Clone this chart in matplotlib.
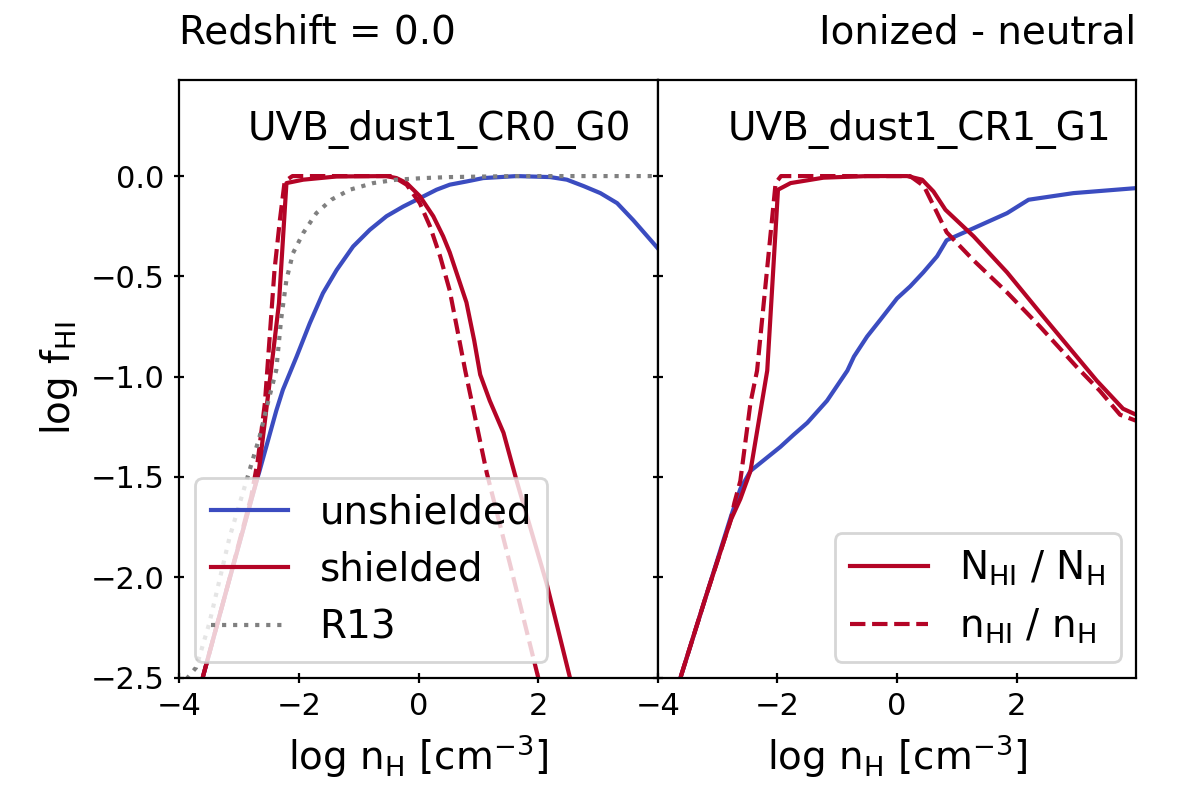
import matplotlib
matplotlib.use("Agg")
import matplotlib.pyplot as plt

blue = "#3b4cc0"
red = "#b40426"

# left panel: UVB_dust1_CR0_G0
l_unsh_x = [-3.7, -3.61, -3.2, -2.71, -2.66, -2.38, -2.27, -2.04, -1.82, -1.60, -1.37, -1.095, -0.816, -0.536, -0.258, 0.022, 0.30, 0.52, 0.80, 1.08, 1.64, 2.2, 2.48, 2.76, 3.04, 3.32, 3.59, 4.0]
l_unsh_y = [-2.6, -2.5, -2.05, -1.52, -1.47, -1.17, -1.066, -0.90, -0.734, -0.584, -0.468, -0.351, -0.268, -0.20, -0.152, -0.110, -0.068, -0.043, -0.027, -0.01, 0.0, -0.005, -0.018, -0.05, -0.085, -0.135, -0.22, -0.36]

l_sh_x = [-3.7, -3.61, -3.2, -2.71, -2.67, -2.50, -2.335, -2.21, -1.93, -1.37, -0.54, -0.37, -0.2, 0.02, 0.245, 0.41, 0.52, 0.80, 0.93, 1.03, 1.19, 1.42, 1.64, 2.14, 2.53, 2.6]
l_sh_y = [-2.6, -2.5, -2.05, -1.52, -1.466, -1.05, -0.634, -0.035, -0.018, -0.002, 0.0, -0.01, -0.035, -0.10, -0.20, -0.30, -0.38, -0.63, -0.82, -0.99, -1.12, -1.28, -1.52, -2.03, -2.50, -2.6]

l_shn_x = [-3.7, -3.61, -3.2, -2.8, -2.69, -2.57, -2.49, -2.41, -2.32, -2.24, -2.11, -0.44, -0.2, 0.02, 0.19, 0.36, 0.52, 0.78, 1.14, 1.55, 2.0, 2.05]
l_shn_y = [-2.6, -2.5, -2.05, -1.6, -1.42, -1.13, -0.80, -0.47, -0.22, -0.027, 0.0, 0.0, -0.043, -0.135, -0.25, -0.40, -0.57, -0.97, -1.48, -1.96, -2.5, -2.6]

r13_x = [-4.0, -3.72, -3.5, -3.16, -2.86, -2.66, -2.52, -2.38, -2.30, -2.21, -2.10, -1.93, -1.71, -1.46, -1.15, -0.76, -0.37, 0.08, 0.52, 1.6, 4.0]
r13_y = [-2.55, -2.45, -2.23, -1.80, -1.50, -1.30, -1.13, -0.967, -0.717, -0.517, -0.384, -0.284, -0.185, -0.118, -0.068, -0.035, -0.018, -0.01, -0.005, 0.0, 0.0]

# right panel: UVB_dust1_CR1_G1
r_unsh_x = [-3.7, -3.62, -3.2, -2.78, -2.62, -2.45, -2.2, -1.95, -1.73, -1.5, -1.17, -1.0, -0.83, -0.72, -0.5, -0.28, 0.0, 0.22, 0.44, 0.67, 0.83, 1.28, 1.84, 2.2, 2.95, 4.0]
r_unsh_y = [-2.6, -2.5, -2.1, -1.70, -1.56, -1.47, -1.41, -1.35, -1.29, -1.23, -1.12, -1.045, -0.97, -0.90, -0.80, -0.717, -0.61, -0.55, -0.48, -0.40, -0.32, -0.26, -0.185, -0.118, -0.085, -0.06]

r_sh_x = [-3.7, -3.62, -3.2, -2.78, -2.62, -2.45, -2.17, -1.99, -1.78, -1.23, -0.5, 0.17, 0.42, 0.61, 0.81, 1.28, 1.84, 2.39, 3.34, 3.78, 4.0]
r_sh_y = [-2.6, -2.5, -2.1, -1.715, -1.61, -1.47, -0.97, -0.068, -0.035, -0.008, 0.0, 0.0, -0.018, -0.077, -0.168, -0.30, -0.48, -0.68, -1.02, -1.16, -1.19]

r_shn_x = [-3.7, -3.62, -3.2, -2.78, -2.72, -2.62, -2.45, -2.34, -2.03, -1.94, 0.22, 0.45, 0.83, 1.28, 1.84, 2.39, 3.0, 3.39, 3.73, 4.0]
r_shn_y = [-2.6, -2.5, -2.1, -1.715, -1.63, -1.52, -1.13, -0.97, -0.035, 0.0, 0.0, -0.05, -0.28, -0.42, -0.58, -0.75, -0.95, -1.07, -1.19, -1.22]

plt.rcParams['font.family'] = ['DejaVu Sans']
plt.rcParams['xtick.direction'] = 'inout'
plt.rcParams['ytick.direction'] = 'inout'
plt.rcParams['xtick.labelsize'] = 11
plt.rcParams['ytick.labelsize'] = 11

fig, (ax1, ax2) = plt.subplots(1, 2, sharey=True, figsize=(5.98, 3.99), dpi=200)
fig.subplots_adjust(left=0.15, right=0.95, top=0.9, bottom=0.151, wspace=0)

ax1.plot(l_unsh_x, l_unsh_y, color=blue, lw=1.5, label='unshielded')
ax1.plot(l_sh_x, l_sh_y, color=red, lw=1.5, label='shielded')
ax1.plot(l_shn_x, l_shn_y, color=red, lw=1.5, ls='--')
ax1.plot(r13_x, r13_y, color='gray', lw=1.5, ls=':', label='R13')

ax2.plot(r_unsh_x, r_unsh_y, color=blue, lw=1.5)
ax2.plot(r_sh_x, r_sh_y, color=red, lw=1.5, label=r'$\mathrm{N_{HI}}$ / $\mathrm{N_H}$')
ax2.plot(r_shn_x, r_shn_y, color=red, lw=1.5, ls='--', label=r'$\mathrm{n_{HI}}$ / $\mathrm{n_H}$')

for ax in (ax1, ax2):
    ax.set_xlim(-4, 4)
    ax.set_xticks([-4, -2, 0, 2])
    ax.set_xlabel(r'log $\mathrm{n_H}$ [cm$^{-3}$]', fontsize=14)
ax1.set_ylim(-2.5, 0.48)
ax1.set_yticks([0.0, -0.5, -1.0, -1.5, -2.0, -2.5])
ax1.set_ylabel(r'log $\mathrm{f_{HI}}$', fontsize=14)
ax2.tick_params(axis='y', left=True, labelleft=False)

ax1.text(0.945, 0.9, 'UVB_dust1_CR0_G0', transform=ax1.transAxes, ha='right', va='baseline', fontsize=14)
ax2.text(0.948, 0.9, 'UVB_dust1_CR1_G1', transform=ax2.transAxes, ha='right', va='baseline', fontsize=14)

ax1.set_title('Redshift = 0.0', loc='left', fontsize=14, pad=13)
ax2.set_title('Ionized - neutral', loc='right', fontsize=14, pad=13)

ax1.legend(loc='lower left', fontsize=14, borderaxespad=0.4)
ax2.legend(loc='lower right', fontsize=14, borderaxespad=0.4)

fig.savefig('out.png', dpi=200)
